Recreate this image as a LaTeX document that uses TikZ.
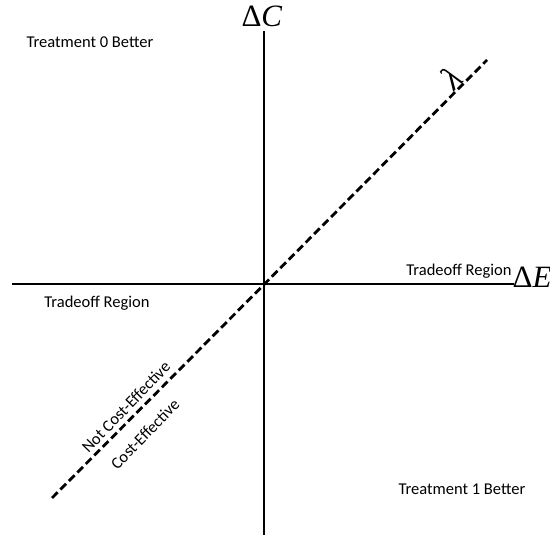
\documentclass[tikz,border=0pt]{standalone}
\usepackage{fontspec}
\setmainfont{Carlito}
\newfontfamily\axisfont{Liberation Serif}
\usetikzlibrary{calc}

\tikzset{
    axis/.style={line width=2.8pt, draw=black},
    wtp/.style={line width=2.8pt, draw=black, dash pattern=on 8pt off 4pt},
    region/.style={font=\fontsize{16.5}{19}\selectfont, text=black, inner sep=1pt},
    axislabel/.style={font=\axisfont\fontsize{31}{33}\selectfont, inner sep=0pt}
}

\begin{document}
\begin{tikzpicture}[x=1pt, y=-1pt]
        \useasboundingbox (0,0) rectangle (550,537);

        \coordinate (origin) at (264,284);
        \coordinate (ctop) at (264,31);
        \coordinate (cbot) at (264,535);
        \coordinate (eleft) at (12,284);
        \coordinate (eright) at (514,284);
        \coordinate (wlow) at (52,498);
        \coordinate (whigh) at (487,60);

        \draw[axis] (cbot) -- (ctop);
        \draw[axis] (eleft) -- (eright);
        \draw[wtp] (wlow) -- (whigh);

        \node[axislabel] (dc) at (262,16) {Δ\textit{C}};
        \node[axislabel] (de) at (532,277) {Δ\textit{E}};
        \node[axislabel, rotate=45, font=\axisfont\fontsize{34}{36}\selectfont] (lambda) at (451,78) {\textit{λ}};

        \node[region] (t0) at (90,42) {Treatment 0 Better};
        \node[region] (t1) at (462,489) {Treatment 1 Better};
        \node[region] (trright) at (459,271) {Tradeoff Region};
        \node[region] (trleft) at (97,303) {Tradeoff Region};

        \node[region, rotate=46] (notce) at (126,407) {Not Cost-Effective};
        \node[region, rotate=46] (ce) at (145,434) {Cost-Effective};
    \end{tikzpicture}
\end{document}
